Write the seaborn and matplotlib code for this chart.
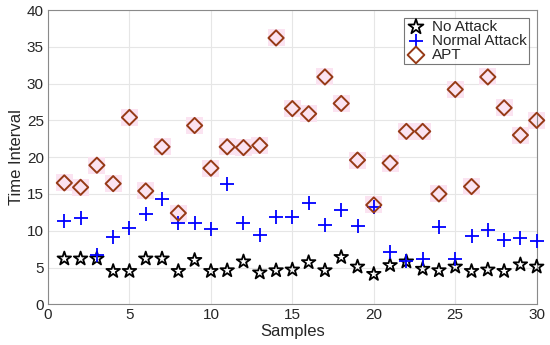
import matplotlib
matplotlib.use("Agg")
import matplotlib.pyplot as plt
import seaborn as sns
import numpy as np
import pandas as pd

samples = list(range(1, 31))
no_attack = [6.2, 6.2, 6.2, 4.5, 4.5, 6.2, 6.2, 4.5, 6.0, 4.5,
             4.6, 5.8, 4.3, 4.6, 4.7, 5.7, 4.6, 6.4, 5.1, 4.1,
             5.3, 5.8, 4.8, 4.6, 5.1, 4.5, 4.7, 4.5, 5.4, 5.1]
normal_attack = [11.3, 11.7, 6.7, 9.1, 10.4, 12.3, 14.3, 11.0, 11.0, 10.3,
                 16.4, 11.1, 9.4, 11.8, 11.8, 13.8, 10.8, 12.8, 10.6, 13.2,
                 7.1, 5.9, 6.1, 10.5, 6.2, 9.3, 10.1, 8.7, 9.0, 8.6]
apt = [16.5, 15.9, 18.9, 16.4, 25.4, 15.4, 21.4, 12.4, 24.3, 18.5,
       21.4, 21.3, 21.6, 36.2, 26.6, 25.9, 30.9, 27.3, 19.6, 13.5,
       19.2, 23.5, 23.5, 15.0, 29.2, 16.0, 30.9, 26.7, 23.0, 25.0]
x_ticks = [0, 5, 10, 15, 20, 25, 30]
y_ticks = [0, 5, 10, 15, 20, 25, 30, 35, 40]

sns.set_style("whitegrid")
plt.rcParams['font.family'] = ['Liberation Sans', 'DejaVu Sans']

df = pd.DataFrame({"Samples": samples, "No Attack": no_attack,
                   "Normal Attack": normal_attack, "APT": apt})

fig = plt.figure(figsize=(5.5, 3.45), dpi=100)
ax = fig.add_axes([0.0873, 0.118, 0.8885, 0.853])

# faint pink halo behind diamonds
sns.scatterplot(data=df, x="Samples", y="APT", marker="s", s=150,
                color="#fbe3f1", edgecolor="none", ax=ax, legend=False,
                zorder=2, clip_on=False)
sns.scatterplot(data=df, x="Samples", y="No Attack", marker="*", s=105,
                facecolor="none", edgecolor="black", linewidth=1.3,
                ax=ax, label="No Attack", zorder=3, clip_on=False)
sns.scatterplot(data=df, x="Samples", y="Normal Attack", marker="+", s=95,
                color="#0000ff", linewidth=1.3, ax=ax, label="Normal Attack",
                zorder=4, clip_on=False)
sns.scatterplot(data=df, x="Samples", y="APT", marker="D", s=60,
                facecolor="none", edgecolor="#963a16", linewidth=1.4,
                ax=ax, label="APT", zorder=5, clip_on=False)

ax.set_xlim(0, 30)
ax.set_ylim(0, 40)
ax.set_xticks(x_ticks)
ax.set_yticks(y_ticks)
ax.grid(True, color="#e6e6e6", linewidth=0.8)
for sp in ax.spines.values():
    sp.set_color("#8a8a8a")
    sp.set_linewidth(0.8)
ax.tick_params(axis="both", direction="in", length=3, color="#8a8a8a",
               labelsize=11, labelcolor="#262626", pad=3)
ax.set_xlabel("Samples", fontsize=12, color="#262626", labelpad=1)
ax.set_ylabel("Time Interval", fontsize=12, color="#262626", labelpad=2)

leg = ax.legend(loc="upper right", fontsize=11, frameon=True, fancybox=False,
                borderpad=0.15, labelspacing=0.0, handletextpad=0.4,
                handlelength=1.3, borderaxespad=0.5, markerscale=1.1)
leg.get_frame().set_edgecolor("#555555")
leg.get_frame().set_linewidth(0.8)
leg.set_zorder(10)

fig.savefig("out.png", dpi=100)
